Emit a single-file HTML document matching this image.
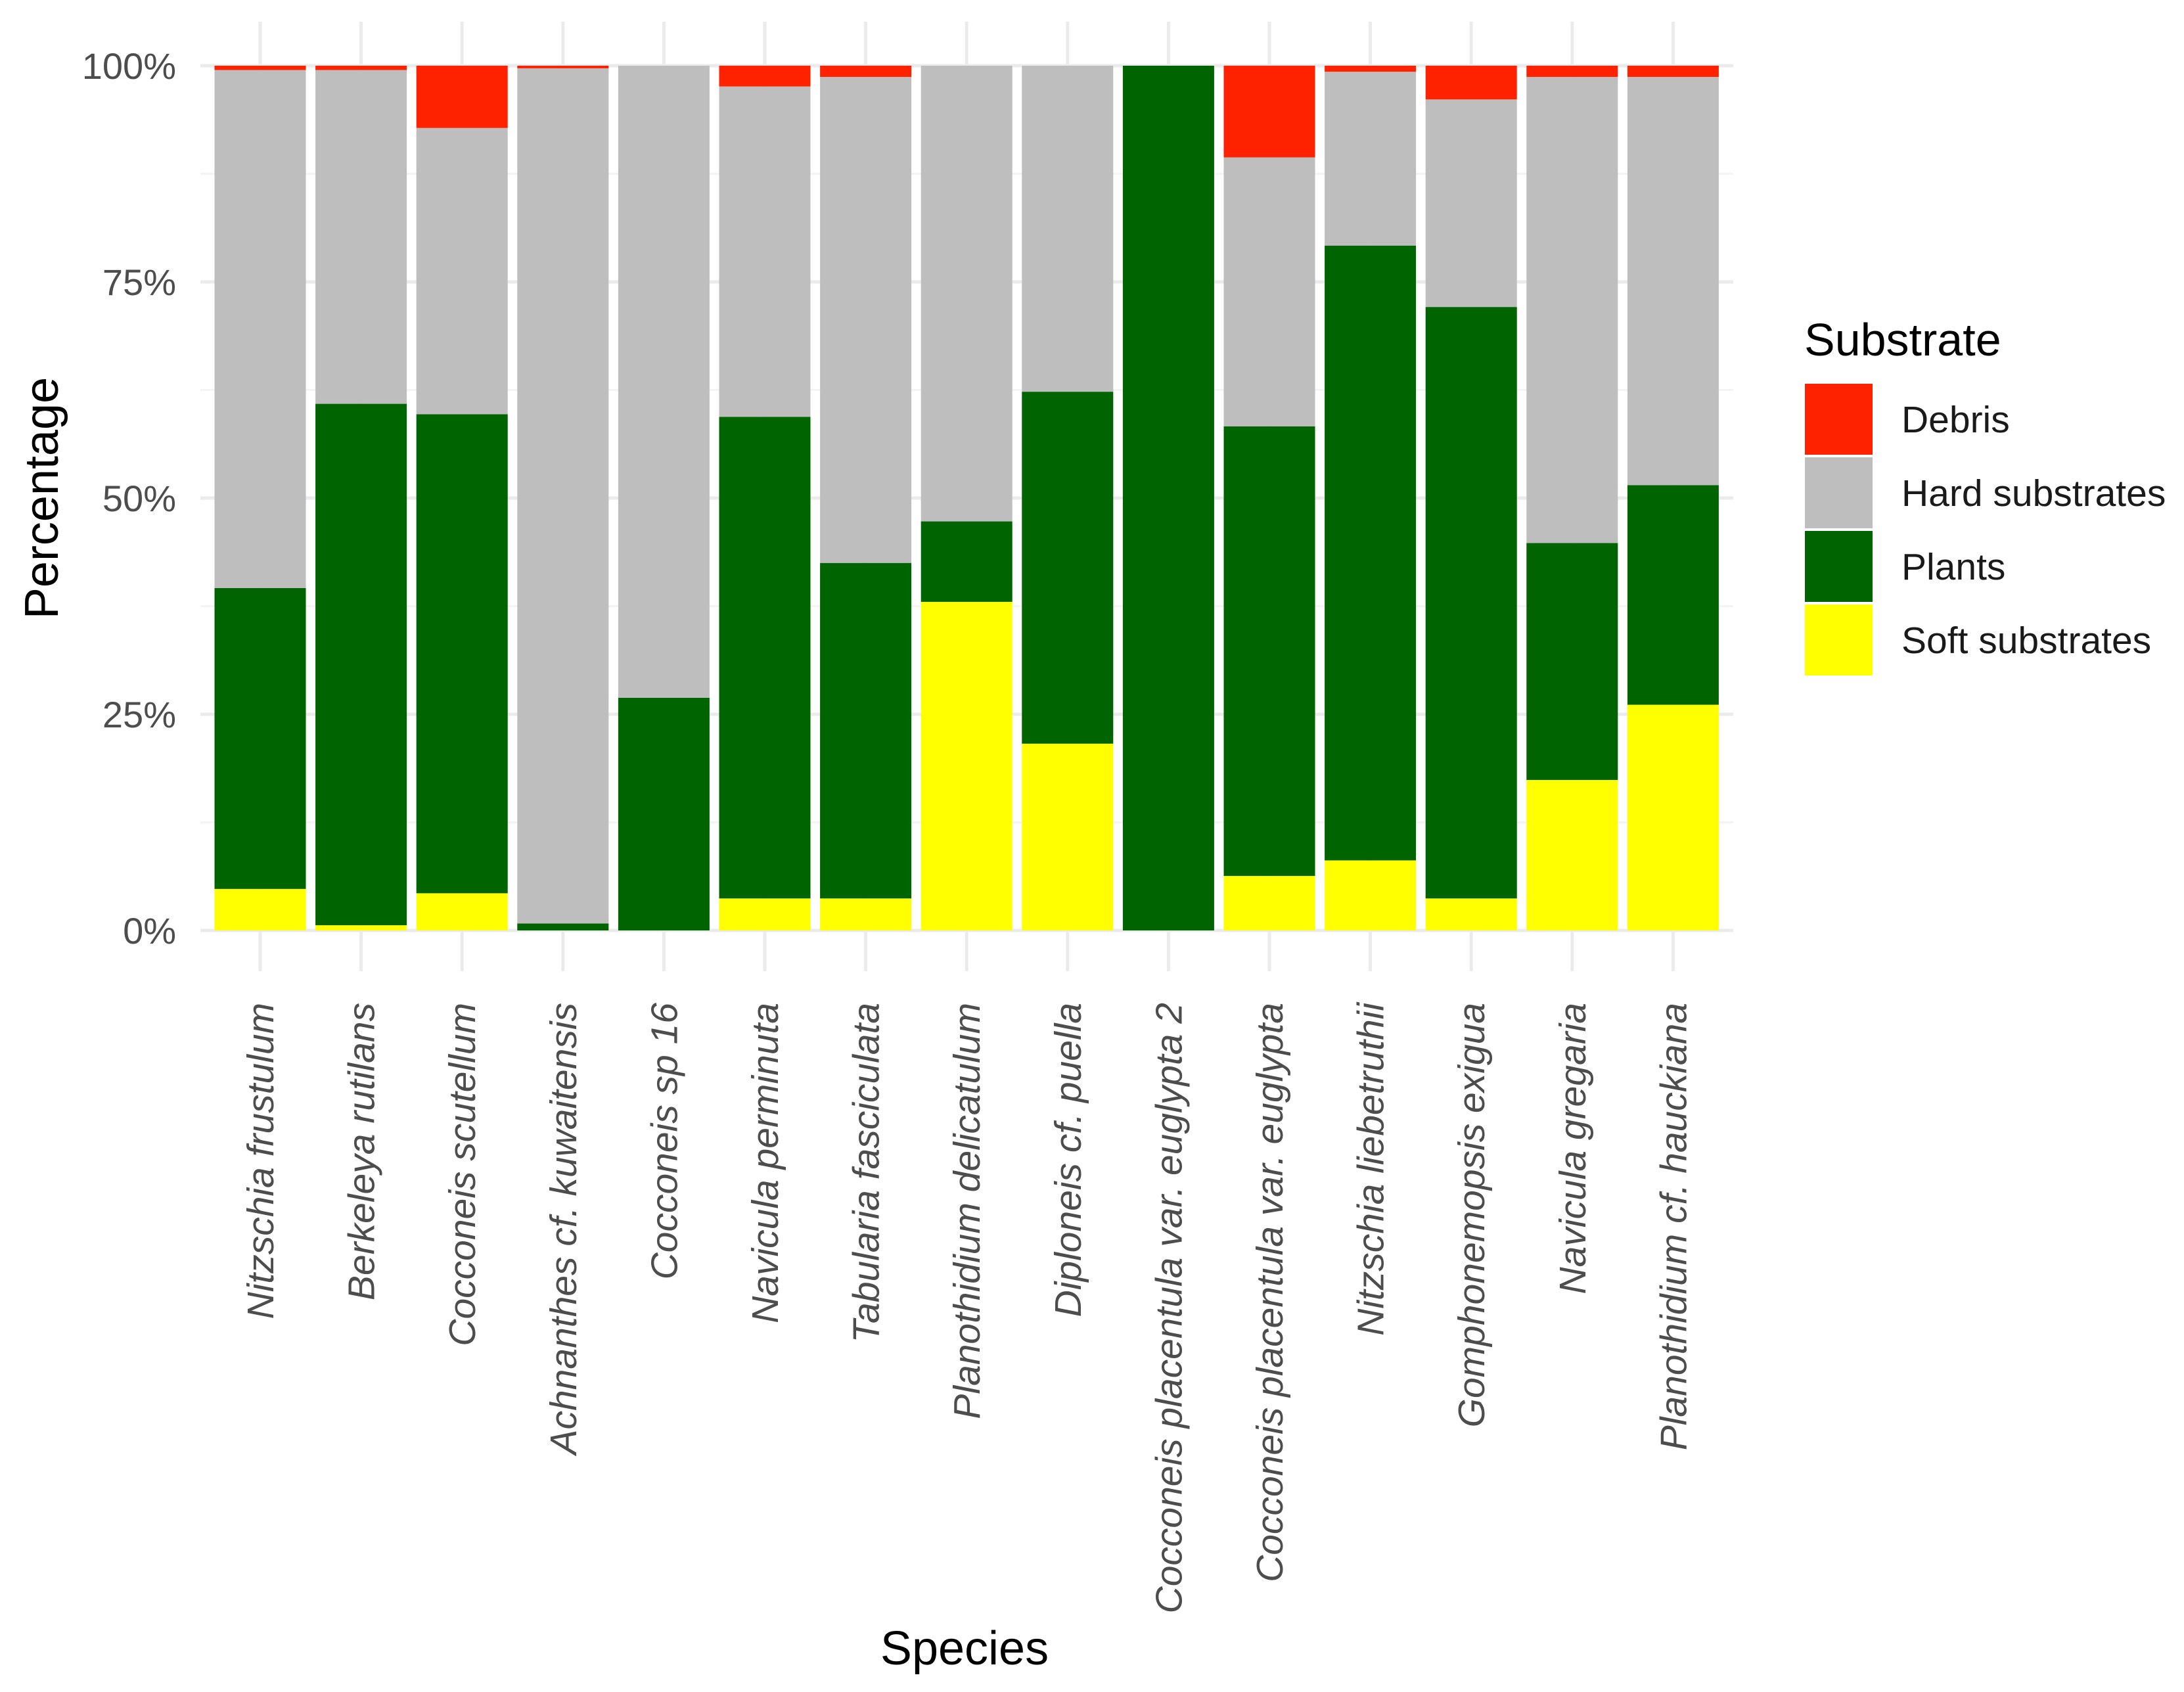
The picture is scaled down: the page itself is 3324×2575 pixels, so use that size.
<!DOCTYPE html>
<html><head><meta charset="utf-8"><style>
html,body{margin:0;padding:0;background:#fff;}
svg{display:block;font-family:"Liberation Sans",sans-serif;}
</style></head><body>
<svg id="chart" width="3324" height="2575" viewBox="0 0 3324 2575" xmlns="http://www.w3.org/2000/svg">
<g id="grid"></g>
<g id="bars"></g>
<g id="yticks"></g>
<g id="xticks"></g>
<text transform="translate(88,758) rotate(-90)" text-anchor="middle" font-size="72" fill="#000">Percentage</text>
<text x="1468" y="2533" text-anchor="middle" font-size="72" fill="#000">Species</text>
<g id="legend">
<text x="2746" y="541" font-size="70" fill="#000">Substrate</text>
</g>
</svg>
<script>
const species = ["Nitzschia frustulum","Berkeleya rutilans","Cocconeis scutellum","Achnanthes cf. kuwaitensis","Cocconeis sp 16","Navicula perminuta","Tabularia fasciculata","Planothidium delicatulum","Diploneis cf. puella","Cocconeis placentula var. euglypta 2","Cocconeis placentula var. euglypta","Nitzschia liebetruthii","Gomphonemopsis exigua","Navicula gregaria","Planothidium cf. hauckiana"];
const soft   = [4.8,0.6,4.3,0,0,3.7,3.7,38.0,21.6,0,6.3,8.1,3.7,17.4,26.1];
const plants = [34.8,60.3,55.4,0.8,26.9,55.7,38.8,9.3,40.7,100,52.0,71.1,68.4,27.4,25.4];
const hard   = [59.9,38.6,33.1,98.9,73.1,38.2,56.2,52.7,37.7,0,31.1,20.1,24.0,53.9,47.2];
const debris = [0.5,0.5,7.2,0.3,0,2.4,1.3,0,0,0,10.6,0.7,3.9,1.3,1.3];
const seriesNames = ["Debris","Hard substrates","Plants","Soft substrates"];
const yTicks = [0,25,50,75,100];
const yTickLabels = ["0%","25%","50%","75%","100%"];

const NS="http://www.w3.org/2000/svg";
const y0=1416, y100=100, xFirst=396, step=153.6, barW=139;
const panelL=305, panelR=2638, panelT=33, panelB=1478;
function yScale(v){return y0-(v/100)*(y0-y100);}
function xScale(i){return xFirst+i*step;}
function mk(tag,attrs,parent){const e=document.createElementNS(NS,tag);for(const k in attrs)e.setAttribute(k,attrs[k]);parent.appendChild(e);return e;}

const grid=document.getElementById('grid');
for(let t=12.5;t<100;t+=25){
  const l=mk('line',{x1:panelL,x2:panelR,y1:yScale(t),y2:yScale(t),stroke:'#f4f4f4','stroke-width':3},grid);
  
  
}
yTicks.forEach(t=>{
  const l=mk('line',{x1:panelL,x2:panelR,y1:yScale(t),y2:yScale(t),stroke:'#ebebeb','stroke-width':5},grid);
  
  
});
species.forEach((s,i)=>{
  const l=mk('line',{x1:xScale(i),x2:xScale(i),y1:panelT,y2:panelB,stroke:'#ebebeb','stroke-width':5},grid);
  
  
});

const colors={soft:'#FFFF00',plants:'#006400',hard:'#BEBEBE',debris:'#FF2200'};
const bars=document.getElementById('bars');
species.forEach((s,i)=>{
  const stack=[['soft',soft[i]],['plants',plants[i]],['hard',hard[i]],['debris',debris[i]]];
  let cum=0;
  stack.forEach(([k,v])=>{
    if(v<=0)return;
    const top=yScale(cum+v), bot=yScale(cum);
    const r=mk('rect',{x:xScale(i)-barW/2,y:top,width:barW,height:bot-top,fill:colors[k]},bars);
    
    
    cum+=v;
  });
});

const yt=document.getElementById('yticks');
yTicks.forEach((t,j)=>{
  const e=mk('text',{x:268,y:yScale(t)+20,'text-anchor':'end','font-size':56,fill:'#4d4d4d'},yt);
  e.textContent=yTickLabels[j];
  
  
});
const xt=document.getElementById('xticks');
species.forEach((s,i)=>{
  const e=mk('text',{transform:'translate('+(xScale(i)+20)+',1526) rotate(-90)','text-anchor':'end','font-size':57,'font-style':'italic',fill:'#4d4d4d'},xt);
  e.textContent=s;
  
  
});

const lg=document.getElementById('legend');
const keyColors=[colors.debris,colors.hard,colors.plants,colors.soft];
seriesNames.forEach((n,j)=>{
  const y=584+j*112;
  const r=mk('rect',{x:2747,y:y,width:103,height:108,fill:keyColors[j]},lg);
  
  
  const t=mk('text',{x:2894,y:y+74,'font-size':57,fill:'#1a1a1a'},lg);
  t.textContent=n;
  
  
});
</script>
</body></html>
